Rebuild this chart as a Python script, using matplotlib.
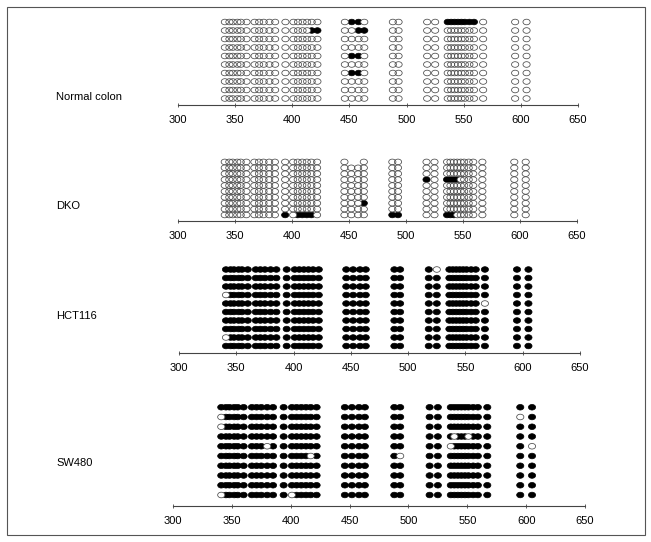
import numpy as np
import matplotlib
matplotlib.use("Agg")
from matplotlib import pyplot as plt
from matplotlib.patches import Ellipse, Rectangle

plt.rcParams['font.family'] = ['Liberation Sans', 'DejaVu Sans']

# CpG positions (bp), grouped as they sit along the fragment
cpg_pos = [341, 345, 348, 352, 355, 360,
           367, 371, 375, 380, 385,
           394, 401, 405, 409, 413, 417, 422,
           446, 452, 458, 463,
           488, 493,
           518, 525,
           536, 539, 542, 545, 548, 551, 555, 559, 567,
           595, 605]

# o = unmethylated, x = methylated, - = not read
normal_colon = [
    "oooooo ooooo ooooooo oxxo oo oo xxxxxxxxo oo",
    "oooooo ooooo oooooxx ooxx oo oo ooooooooo oo",
    "oooooo ooooo ooooooo oooo oo oo ooooooooo oo",
    "oooooo ooooo ooooooo oooo oo oo ooooooooo oo",
    "oooooo ooooo ooooooo oxxo oo oo ooooooooo oo",
    "oooooo ooooo ooooooo oooo oo oo ooooooooo oo",
    "oooooo ooooo ooooooo oxxo oo oo ooooooooo oo",
    "oooooo ooooo ooooooo oooo oo oo ooooooooo oo",
    "oooooo ooooo ooooooo oooo oo oo ooooooooo oo",
    "oooooo ooooo ooooooo oooo oo oo ooooooooo oo",
]
dko = [
    "oooooo ooooo ooooooo o--o oo oo ooooooooo oo",
    "oooooo ooooo ooooooo oooo oo oo ooooooooo oo",
    "oooooo ooooo ooooooo oooo oo oo ooooooooo oo",
    "oooooo ooooo ooooooo oooo oo xo xxxxooooo oo",
    "oooooo ooooo ooooooo oooo oo oo ooooooooo oo",
    "oooooo ooooo ooooooo oooo oo oo ooooooooo oo",
    "oooooo ooooo ooooooo oooo oo oo ooooooooo oo",
    "oooooo ooooo ooooooo ooox oo oo ooooooooo oo",
    "oooooo ooooo ooooooo oooo oo oo ooooooooo oo",
    "oooooo ooooo xoxxxxo oooo xx oo xxxoooooo oo",
]
hct116 = [
    "xxxxxx xxxxx xxxxxxx xxxx xx xo xxxxxxxxx xx",
    "xxxxxx xxxxx xxxxxxx xxxx xx xx xxxxxxxxx xx",
    "xxxxxx xxxxx xxxxxxx xxxx xx xx xxxxxxxxx xx",
    "oxxxxx xxxxx xxxxxxx xxxx xx xx xxxxxxxxx xx",
    "xxxxxx xxxxx xxxxxxx xxxx xx xx xxxxxxxxo xx",
    "xxxxxx xxxxx xxxxxxx xxxx xx xx xxxxxxxxx xx",
    "xxxxxx xxxxx xxxxxxx xxxx xx xx xxxxxxxxx xx",
    "xxxxxx xxxxx xxxxxxx xxxx xx xx xxxxxxxxx xx",
    "oxxxxx xxxxx xxxxxxx xxxx xx xx xxxxxxxxx xx",
    "xxxxxx xxxxx xxxxxxx xxxx xx xx xxxxxxxxx xx",
]
sw480 = [
    "xxxxxx xxxxx xxxxxxx xxxx xx xx xxxxxxxxx xx",
    "oxxxxx xxxxx xxxxxxx xxxx xx xx xxxxxxxxx ox",
    "oxxxxx xxxxx xxxxxxx xxxx xx xx xxxxxxxxx xx",
    "xxxxxx xxxxx xxxxxxx xxxx xx xx xoxxxoxxx xx",
    "xxxxxx xxxox xxxxxxx xxxx xx xx oxxxxxxxx xo",
    "xxxxxx xxxxx xxxxxox xxxx xo xx xxxxxxxxx xx",
    "xxxxxx xxxxx xxxxxxx xxxx xx xx xxxxxxxxx xx",
    "xxxxxx xxxxx xxxxxxx xxxx xx xx xxxxxxxxx xx",
    "xxxxxx xxxxx xxxxxxx xxxx xx xx xxxxxxxxx xx",
    "oxxxxx xxxxx xoxxxxx xxxx xx xx xxxxxxxxx xx",
]

names = ["Normal colon", "DKO", "HCT116", "SW480"]
samples = [normal_colon, dko, hct116, sw480]
ticks = [300, 350, 400, 450, 500, 550, 600, 650]

W, H = 651, 542
# pixel layout: x of 300, x of 650, axis line y, bottom row y, row step, label y
layout = [
    (178, 578, 104.5, 98.5, 8.5, 97),
    (178, 577, 220.5, 215, 5.9, 206),
    (179, 580, 352.5, 346, 8.5, 316),
    (173, 585, 506, 495, 9.75, 463),
]
dot_w, dot_h = 7.2, 5.6  # pixels
edge = '#4a4a4a'

fig = plt.figure(figsize=(W / 100, H / 100), dpi=100)

for name, rows, (x0, x1, ay, by, step, ly) in zip(names, samples, layout):
    top = by - 9 * step - 6
    ax = fig.add_axes([x0 / W, 1 - ay / H, (x1 - x0) / W, (ay - top) / H])
    ax.set_xlim(300, 650)
    ax.set_ylim(-(ay - by) / step, 9 + 6 / step)
    pxu = (x1 - x0) / 350.0
    w = dot_w / pxu
    h = dot_h / step

    filled, opened = [], []
    for i, r in enumerate(rows):
        r = r.replace(" ", "")
        y = 9 - i
        for p, c in zip(cpg_pos, r):
            if c == 'x':
                filled.append((p, y))
            elif c == 'o':
                opened.append((p, y))
    for p, y in filled:
        ax.add_patch(Ellipse((p, y), w, h, facecolor='black', edgecolor='black', lw=0.5, zorder=2))
    for p, y in opened:
        ax.add_patch(Ellipse((p, y), w, h, facecolor='white', edgecolor='none', zorder=3))
    for p, y in opened:
        ax.add_patch(Ellipse((p, y), w, h, facecolor='none', edgecolor=edge, lw=0.55, zorder=4))

    for s in ['top', 'right', 'left']:
        ax.spines[s].set_visible(False)
    ax.spines['bottom'].set_color('#444444')
    ax.spines['bottom'].set_linewidth(0.8)
    ax.set_yticks([])
    ax.set_xticks(ticks)
    ax.tick_params(axis='x', direction='inout', length=3, width=0.6, colors='#444444',
                   labelcolor='black', labelsize=8, pad=6)
    ax.patch.set_visible(False)

    fig.text(56 / W, 1 - ly / H, name, fontsize=8, va='center', ha='left')

fig.patches.append(Rectangle((7 / W, 7 / H), 638 / W, 528 / H, transform=fig.transFigure,
                             fill=False, edgecolor='#555555', lw=0.8))

fig.savefig("out.png", dpi=100)
